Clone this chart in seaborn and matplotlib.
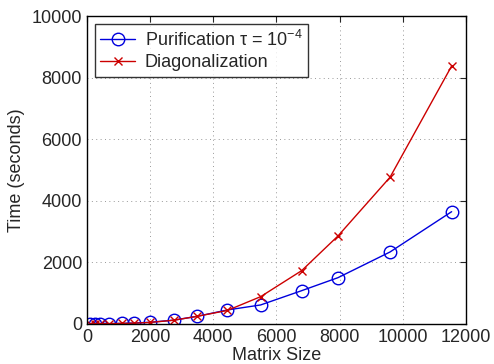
import matplotlib
matplotlib.use("Agg")
import matplotlib.pyplot as plt
import seaborn as sns
import pandas as pd

sizes = [100, 250, 400, 700, 1100, 1500, 2000, 2750, 3500, 4450, 5500, 6800, 7950, 9600, 11550]
purification = [1, 3, 6, 12, 20, 30, 55, 125, 250, 455, 617, 1081, 1503, 2338, 3646]
diagonalization = [1, 2, 4, 9, 16, 25, 50, 120, 250, 440, 886, 1731, 2857, 4766, 8377]

sns.set_style("white")
plt.rcParams['font.family'] = ['Liberation Sans', 'DejaVu Sans']
plt.rcParams['mathtext.fontset'] = 'custom'
plt.rcParams['mathtext.rm'] = 'Liberation Sans'
plt.rcParams['mathtext.it'] = 'Liberation Sans'

df = pd.DataFrame({"size": sizes, "pur": purification, "diag": diagonalization})

fig = plt.figure(figsize=(4.94, 3.64), dpi=100)
ax = fig.add_axes([0.176, 0.110, 0.767, 0.846])

sns.lineplot(data=df, x="size", y="pur", ax=ax, color="#0000dd", marker="o",
             markersize=9, markerfacecolor="none", markeredgecolor="#0000dd",
             markeredgewidth=1.0, linewidth=1.0,
             label="Purification τ = 10$^{-4}$")
sns.lineplot(data=df, x="size", y="diag", ax=ax, color="#cc0000", marker="x",
             markersize=6, markeredgecolor="#cc0000", markeredgewidth=1.0,
             linewidth=1.0, label="Diagonalization")

ax.set_xlim(0, 12000)
ax.set_ylim(0, 10000)
ax.set_xticks(range(0, 12001, 2000))
ax.set_yticks(range(0, 10001, 2000))
ax.grid(True, linestyle=(0, (1, 3.5)), color="#999999", linewidth=0.7)
ax.tick_params(direction="in", top=True, right=True, length=4, labelsize=13, width=0.8)
for s in ax.spines.values():
    s.set_visible(True)
    s.set_color("black")
    s.set_linewidth(1.0)
ax.set_xlabel("Matrix Size", fontsize=13, labelpad=1)
ax.set_ylabel("Time (seconds)", fontsize=13, labelpad=5)

leg = ax.legend(loc="upper left", fontsize=13, frameon=True, fancybox=False,
                edgecolor="black", borderpad=0.3, handlelength=1.9,
                handletextpad=0.55, labelspacing=0.25, borderaxespad=0.45)
leg.get_frame().set_linewidth(1.0)

fig.savefig("out.png", dpi=100)
